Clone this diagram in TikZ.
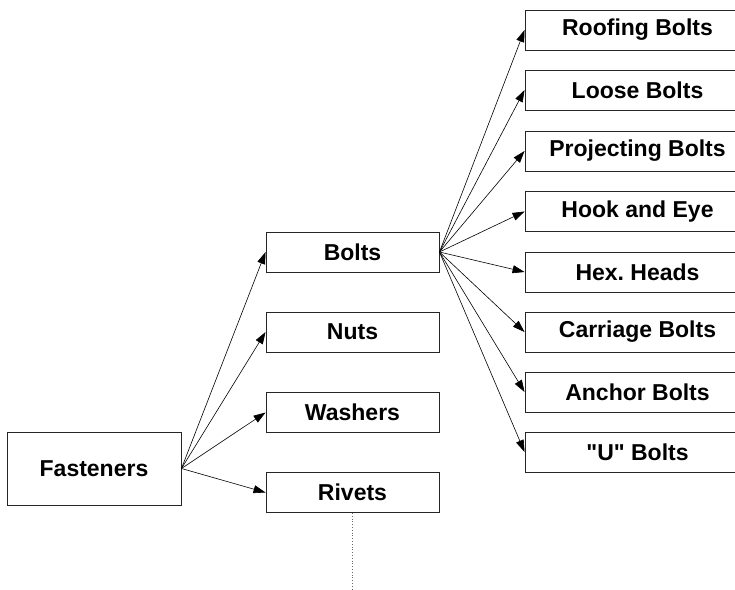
\documentclass[tikz,border=0pt]{standalone}
\usepackage{fontspec}
\setmainfont{Liberation Sans}[Ligatures=TeXOff]
\usetikzlibrary{arrows.meta}
\frenchspacing
\begin{document}
\begin{tikzpicture}[x=1pt,y=-1pt,
  box/.style={draw=black!85, line width=0.9pt, fill=white, inner sep=0pt,
    font=\fontsize{23}{25}\selectfont\bfseries},
  rootbox/.style={box, minimum width=174pt, minimum height=73pt},
  midbox/.style={box, minimum width=173pt, minimum height=40pt},
  leafbox/.style={box, minimum width=225pt, minimum height=40pt},
  link/.style={draw=black, line width=0.6pt,
    -{Triangle[length=12pt,width=8pt]}},
  trail/.style={draw=black!60, line width=0.8pt, dotted}]
\useasboundingbox (0,0) rectangle (735,589);
\clip (0,0) rectangle (735,589);

% root
\node[rootbox] (fast) at (94,468.5) {Fasteners};

% second level
\node[midbox] (bolts)   at (352.5,252)   {Bolts};
\node[midbox] (nuts)    at (352.5,332)   {Nuts};
\node[midbox] (washers) at (352.5,412.5) {Washers};
\node[midbox] (rivets)  at (352.5,492.5) {Rivets};

% kinds of bolt
\node[leafbox] (roof)  at (637.5,30)    {Roofing Bolts};
\node[leafbox] (loose) at (637.5,90)    {Loose Bolts};
\node[leafbox] (proj)  at (637.5,151)   {Projecting Bolts};
\node[leafbox] (hook)  at (637.5,211.5) {Hook and Eye};
\node[leafbox] (hex)   at (637.5,272)   {Hex. Heads};
\node[leafbox] (carr)  at (637.5,332)   {Carriage Bolts};
\node[leafbox] (anch)  at (637.5,392)   {Anchor Bolts};
\node[leafbox] (ubolt) at (637.5,452)   {"U" Bolts};

% connectors
\foreach \t in {bolts,nuts,washers,rivets}
  \draw[link] (fast.east) -- (\t.west);
\foreach \t in {roof,loose,proj,hook,hex,carr,anch,ubolt}
  \draw[link] (bolts.east) -- (\t.west);

% continuation below Rivets
\coordinate (tail) at (352.5,589);
\draw[trail] (rivets.south) -- (tail);
\end{tikzpicture}
\end{document}
